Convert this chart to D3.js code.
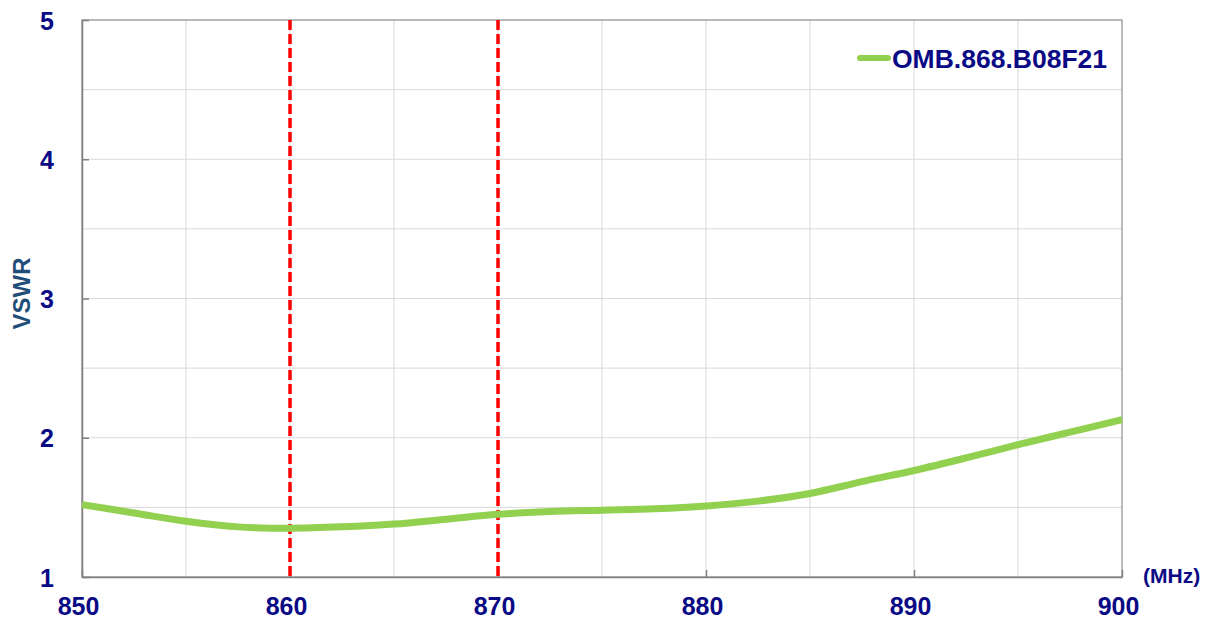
<!DOCTYPE html>
<html>
<head>
<meta charset="utf-8">
<script src="https://cdn.jsdelivr.net/npm/d3@7"></script>
<style>
  html, body { margin: 0; padding: 0; background: #fff; }
  #graph { width: 1210px; height: 620px; }
  text { font-family: "Liberation Sans", Arial, sans-serif; font-weight: bold; }
</style>
</head>
<body>
<div id="graph"></div>
<script>
// frequency (MHz) and VSWR
const freqs = [850, 852.5, 855, 857.5, 860, 862.5, 865, 867.5, 870, 872.5, 875,
               877.5, 880, 882.5, 885, 887.5, 890, 892.5, 895, 897.5, 900];
const vswr = [1.52, 1.46, 1.40, 1.36, 1.35, 1.36, 1.38, 1.415, 1.45, 1.47, 1.48,
              1.49, 1.51, 1.545, 1.60, 1.685, 1.765, 1.855, 1.95, 2.04, 2.13];
const seriesName = "OMB.868.B08F21";
const markers = [860, 870];
const xTicks = [850, 860, 870, 880, 890, 900];
const xGrid = [855, 860, 865, 870, 875, 880, 885, 890, 895];
const yTicks = [1, 2, 3, 4, 5];
const yGrid = [1.5, 2, 2.5, 3, 3.5, 4, 4.5];

document.addEventListener("DOMContentLoaded", () => {
    const margin = { top: 20, right: 88, bottom: 43, left: 82 };
    const width = 1210 - margin.left - margin.right;
    const height = 620 - margin.top - margin.bottom;

    const svg = d3.select("#graph")
        .append("svg")
        .attr("width", 1210)
        .attr("height", 620)
        .append("g")
        .attr("transform", `translate(${margin.left}, ${margin.top})`);

    const x = d3.scaleLinear().domain([850, 900]).range([0, width]);
    const y = d3.scaleLinear().domain([1, 5]).range([height, 0]);

    // grid
    svg.append("g").selectAll("line").data(xGrid).join("line")
        .attr("x1", d => x(d)).attr("x2", d => x(d))
        .attr("y1", 0).attr("y2", height)
        .attr("stroke", "#d9d9d9").attr("stroke-width", 1);
    svg.append("g").selectAll("line").data(yGrid).join("line")
        .attr("x1", 0).attr("x2", width)
        .attr("y1", d => y(d)).attr("y2", d => y(d))
        .attr("stroke", "#d9d9d9").attr("stroke-width", 1);

    // plot border
    svg.append("rect")
        .attr("width", width).attr("height", height)
        .attr("fill", "none").attr("stroke", "#8c8c8c").attr("stroke-width", 1.2);

    // axes, ticks pointing inside
    const xAxis = svg.append("g")
        .attr("transform", `translate(0, ${height})`)
        .call(d3.axisBottom(x).tickValues(xTicks).tickFormat(d3.format("d"))
            .tickSizeInner(-7).tickSizeOuter(0).tickPadding(20));
    const yAxis = svg.append("g")
        .call(d3.axisLeft(y).tickValues(yTicks).tickFormat(d3.format("d"))
            .tickSizeInner(-7).tickSizeOuter(0).tickPadding(28));
    [xAxis, yAxis].forEach(a => {
        a.select(".domain").attr("stroke", "#808080").attr("stroke-width", 1.5);
        a.selectAll(".tick line").attr("stroke", "#808080").attr("stroke-width", 1.5);
        a.selectAll(".tick text")
            .attr("fill", "#0a0a85")
            .style("font-size", "25px")
            .style("font-weight", "bold")
            .style("font-family", "'Liberation Sans', Arial, sans-serif");
    });
    xAxis.selectAll(".tick text").attr("dx", "-4px");
    yAxis.selectAll(".tick text").attr("dy", "0.36em");

    // red band markers
    svg.append("g").selectAll("line").data(markers).join("line")
        .attr("x1", d => x(d)).attr("x2", d => x(d))
        .attr("y1", 0).attr("y2", height)
        .attr("stroke", "#ff0000").attr("stroke-width", 3.5)
        .attr("stroke-dasharray", "10,4");

    // curve
    const pts = freqs.map((f, i) => ({ f, v: vswr[i] }));
    svg.append("path")
        .datum(pts)
        .attr("fill", "none")
        .attr("stroke", "#92d050")
        .attr("stroke-width", 7)
        .attr("d", d3.line()
            .x(d => x(d.f))
            .y(d => y(d.v))
            .curve(d3.curveCatmullRom.alpha(0.5)));

    // legend
    const lg = svg.append("g").attr("transform", `translate(${width - 262}, 38)`);
    lg.append("line")
        .attr("x1", 0).attr("x2", 28).attr("y1", 0).attr("y2", 0)
        .attr("stroke", "#92d050").attr("stroke-width", 6)
        .attr("stroke-linecap", "round");
    lg.append("text")
        .attr("x", 32).attr("y", 0).attr("dy", "0.36em")
        .attr("fill", "#0a0a85")
        .style("font-size", "26.5px")
        .text(seriesName);

    // axis titles
    svg.append("text")
        .attr("transform", `translate(${-52}, ${height / 2 - 5}) rotate(-90)`)
        .attr("text-anchor", "middle")
        .attr("fill", "#1f4e79")
        .style("font-size", "24px")
        .text("VSWR");
    svg.append("text")
        .attr("x", width + 21).attr("y", height - 2)
        .attr("dy", "0.36em")
        .attr("fill", "#0a0a85")
        .style("font-size", "21px")
        .text("(MHz)");
});
</script>
</body>
</html>
